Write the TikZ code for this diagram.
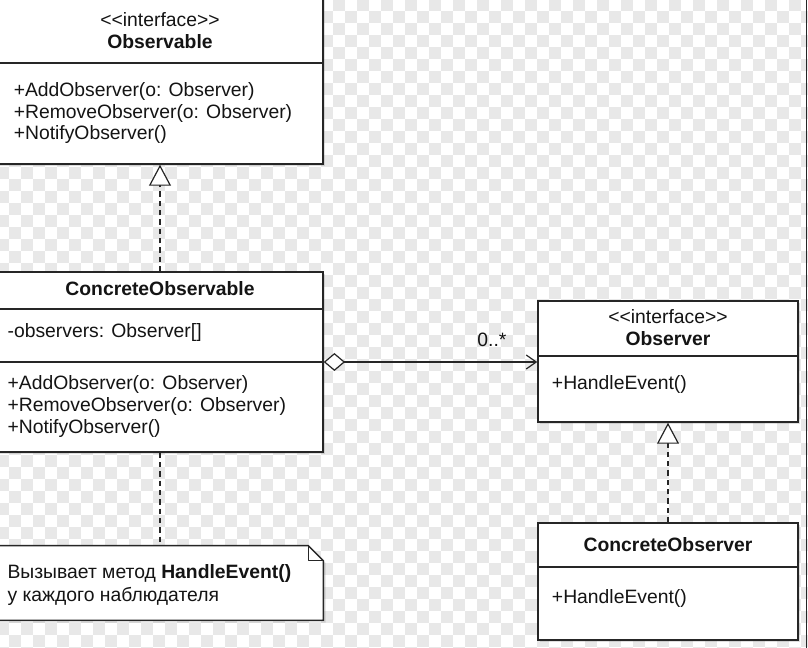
\documentclass[tikz,border=0pt]{standalone}
\usepackage{fontspec}
\setmainfont{Liberation Sans}
\usetikzlibrary{arrows.meta,fit,shadows,calc}
\begin{document}
\begin{tikzpicture}[x=0.75pt,y=-0.75pt,
  font=\fontsize{14.5pt}{17pt}\selectfont,
  classbox/.style={draw=black!85, line width=1.1pt, fill=white, inner sep=0pt,
    drop shadow={shadow xshift=1.8pt, shadow yshift=-1.8pt, opacity=0.25}},
  rule/.style={draw=black!85, line width=1.1pt},
  lbl/.style={inner sep=0pt, text=black!92},
  member/.style={lbl, anchor=base west},
  heading/.style={lbl, anchor=base},
  boldhead/.style={heading, font=\fontsize{14.5pt}{17pt}\selectfont\bfseries},
  realize/.style={draw=black!85, line width=0.9pt, dash pattern=on 4pt off 3pt,
    -{Triangle[open, fill=white, length=15.75pt, width=16.5pt]}},
  aggregate/.style={draw=black!85, line width=0.9pt,
    {Diamond[open, fill=white, length=16pt, width=13.5pt]}-{Straight Barb[length=7.5pt, width=10.5pt]}},
  anchorline/.style={draw=black!85, line width=0.9pt, dash pattern=on 4pt off 3pt},
  checker/.style={fill=black!9}
]
\useasboundingbox (0,0) rectangle (808,648);

% faint checkerboard backdrop
\fill[white] (0,0) rectangle (808,648);
\foreach \i in {-1,...,34} {
  \foreach \j in {-1,...,27} {
    \fill[checker] (9+24*\i, 11+24*\j) rectangle ++(12,12);
    \fill[checker] (21+24*\i, 23+24*\j) rectangle ++(12,12);
  }
}

% ---- Observable (interface) ----
\node[classbox, fit={(-3,-4) (323,164)}] (obs) {};
\draw[rule] (-3,63) -- (323,63);
\node[heading] (obsst) at (160,26.7) {{<}{<}interface{>}{>}};
\node[boldhead] (obsnm) at (160,49) {Observable};
\node[member] (obsm1) at (13.5,96.5) {+AddObserver(o: Observer)};
\node[member] (obsm2) at (13.5,118.3) {+RemoveObserver(o: Observer)};
\node[member] (obsm3) at (13.5,140) {+NotifyObserver()};

% ---- ConcreteObservable ----
\node[classbox, fit={(-3,272) (323,452)}] (cobs) {};
\draw[rule] (-3,309) -- (323,309);
\draw[rule] (-3,362) -- (323,362);
\node[boldhead] (cobsnm) at (160,295.7) {ConcreteObservable};
\node[member] (cobsa1) at (7.3,337.3) {-observers: Observer[]};
\node[member] (cobsm1) at (7.3,390) {+AddObserver(o: Observer)};
\node[member] (cobsm2) at (7.3,411.7) {+RemoveObserver(o: Observer)};
\node[member] (cobsm3) at (7.3,433.3) {+NotifyObserver()};

% ---- Observer (interface) ----
\node[classbox, fit={(538,301) (798,422)}] (ob) {};
\draw[rule] (538,356) -- (798,356);
\node[heading] (obst) at (668,323.3) {{<}{<}interface{>}{>}};
\node[boldhead] (obnm) at (668,345.7) {Observer};
\node[member] (obm1) at (551.7,390) {+HandleEvent()};

% ---- ConcreteObserver ----
\node[classbox, fit={(538,523) (798,640)}] (cob) {};
\draw[rule] (538,567) -- (798,567);
\node[boldhead] (cobnm) at (668,551.7) {ConcreteObserver};
\node[member] (cobm1) at (551.7,603.3) {+HandleEvent()};

% ---- note ----
\node[inner sep=0pt, fit={(-3,546) (323,620)}] (note) {};
\filldraw[rule, fill=white, drop shadow={shadow xshift=1.8pt, shadow yshift=-1.8pt, opacity=0.25}]
  (note.south west) -- (note.north west) -- ($(note.north east)+(-15,0)$)
  -- ($(note.north east)+(0,15)$) -- (note.south east) -- cycle;
\draw[draw=black!85, line width=0.9pt, line join=round]
  ($(note.north east)+(-15,0)$) -- ($(note.north east)+(-15,15)$) -- ($(note.north east)+(0,15)$);
\node[member] (notel1) at (7.3,578.3) {Вызывает метод \textbf{HandleEvent()}};
\node[member] (notel2) at (7.3,601.7) {у каждого наблюдателя};

% ---- relations ----
\draw[realize] (cobs.north) -- (obs.south);
\draw[realize] (cob.north) -- (ob.south);
\draw[aggregate] (cobs.east) -- (cobs.east -| ob.west);
\node[heading] (mult) at (492,346.7) {0..*};
\draw[anchorline] (cobs.south) -- (note.north);

% right frame edge
\draw[black!85, line width=0.9pt] (806.5,0) -- (806.5,648);
\end{tikzpicture}
\end{document}
